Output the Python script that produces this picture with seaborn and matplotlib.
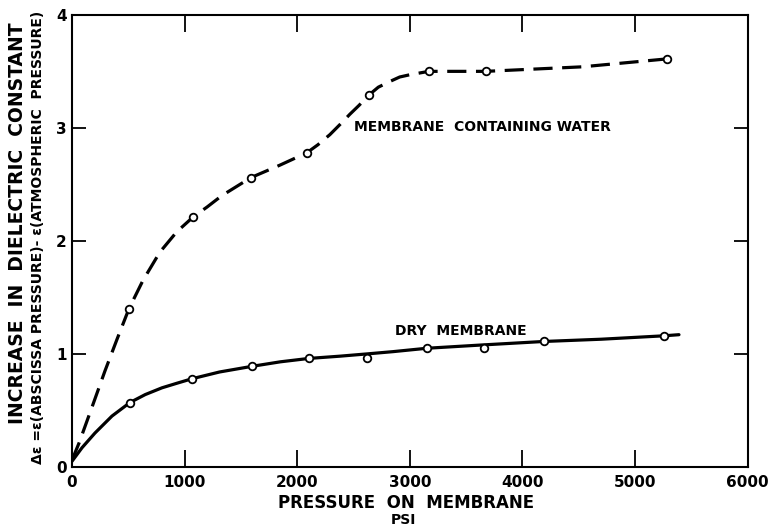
import numpy as np
import pandas as pd
import seaborn as sns
import matplotlib
matplotlib.use("Agg")
import matplotlib.pyplot as plt

# measured points (open circles)
water_psi = [506, 1074, 1589, 2086, 2636, 3169, 3674, 5281]
water_de = [1.40, 2.21, 2.56, 2.78, 3.29, 3.50, 3.50, 3.61]
dry_psi = [515, 1065, 1598, 2103, 2618, 3151, 3657, 4189, 5254]
dry_de = [0.57, 0.78, 0.89, 0.96, 0.96, 1.05, 1.05, 1.11, 1.16]

# hand drawn curves
water_curve_psi = [0, 62, 178, 293, 400, 506, 630, 780, 930, 1074, 1200, 1330, 1589,
                   1846, 2086, 2183, 2290, 2380, 2467, 2550, 2636, 2720, 2822, 2910,
                   3000, 3169, 3674, 4530, 5281]
water_curve_de = [0.06, 0.21, 0.53, 0.85, 1.13, 1.40, 1.65, 1.90, 2.08, 2.21, 2.30, 2.40, 2.56,
                  2.67, 2.78, 2.85, 2.94, 3.03, 3.12, 3.20, 3.29, 3.36, 3.41, 3.45,
                  3.47, 3.50, 3.50, 3.54, 3.61]
dry_curve_psi = [0, 89, 204, 355, 515, 650, 799, 930, 1065, 1310, 1598, 1850, 2103,
                 2380, 2620, 2850, 3151, 3657, 4189, 4700, 5254, 5390]
dry_curve_de = [0.05, 0.17, 0.30, 0.45, 0.57, 0.64, 0.70, 0.74, 0.78, 0.84, 0.89, 0.93, 0.96,
                0.98, 1.00, 1.02, 1.05, 1.08, 1.11, 1.13, 1.16, 1.17]

x_ticks = [0, 1000, 2000, 3000, 4000, 5000, 6000]
y_ticks = [0, 1, 2, 3, 4]

sns.set_style("ticks")
plt.rcParams["font.family"] = ["DejaVu Sans"]
plt.rcParams["font.weight"] = "bold"
plt.rcParams["text.color"] = "black"
plt.rcParams["xtick.color"] = "black"
plt.rcParams["ytick.color"] = "black"
plt.rcParams["axes.edgecolor"] = "black"

fig = plt.figure(figsize=(7.7, 5.3), dpi=100)
ax = fig.add_axes([0.0935, 0.119, 0.8775, 0.853])

water_line = pd.DataFrame({"psi": water_curve_psi, "de": water_curve_de})
dry_line = pd.DataFrame({"psi": dry_curve_psi, "de": dry_curve_de})
sns.lineplot(data=water_line, x="psi", y="de", ax=ax, color="black", lw=2.3,
             linestyle=(0, (6, 3)), estimator=None, sort=False)
sns.lineplot(data=dry_line, x="psi", y="de", ax=ax, color="black", lw=2.3,
             estimator=None, sort=False)

pts = pd.DataFrame({"psi": water_psi + dry_psi, "de": water_de + dry_de})
sns.scatterplot(data=pts, x="psi", y="de", ax=ax, s=30, marker="o",
                facecolor="white", edgecolor="black", linewidth=1.3, zorder=5)

ax.text(2500, 3.01, "MEMBRANE  CONTAINING WATER", fontsize=10, fontweight="bold",
        va="center", ha="left", color="black")
ax.text(2870, 1.20, "DRY  MEMBRANE", fontsize=10, fontweight="bold",
        va="center", ha="left", color="black")

ax.set_xlim(0, 6000)
ax.set_ylim(0, 4)
ax.set_xticks(x_ticks)
ax.set_yticks(y_ticks)
ax.set_xticklabels([str(v) for v in x_ticks], fontsize=11, fontweight="bold")
ax.set_yticklabels([str(v) for v in y_ticks], fontsize=11, fontweight="bold")
ax.tick_params(axis="x", direction="in", length=12, width=1.3, top=True, pad=6)
ax.tick_params(axis="y", direction="in", length=10, width=1.3, right=True, pad=4)
for sp in ax.spines.values():
    sp.set_visible(True)
    sp.set_linewidth(1.5)
ax.set_xlabel("")
ax.set_ylabel("")

fig.text(0.527, 0.05, "PRESSURE  ON  MEMBRANE", fontsize=12, fontweight="bold",
         ha="center", va="center")
fig.text(0.524, 0.018, "PSI", fontsize=10, fontweight="bold", ha="center", va="center")
fig.text(0.023, 0.578, "INCREASE  IN  DIELECTRIC  CONSTANT", fontsize=13.5,
         fontweight="bold", rotation=90, ha="center", va="center")
fig.text(0.049, 0.553, "\u0394\u03b5 =\u03b5(ABSCISSA PRESSURE)- \u03b5(ATMOSPHERIC  PRESSURE)",
         fontsize=10, fontweight="bold", rotation=90, ha="center", va="center")

fig.savefig("out.png", dpi=100)
